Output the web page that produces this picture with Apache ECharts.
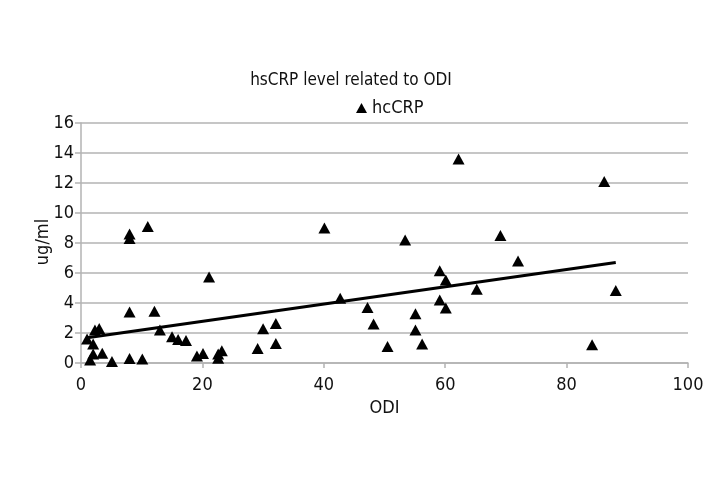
<!DOCTYPE html>
<html>
<head>
<meta charset="utf-8">
<script src="https://cdn.jsdelivr.net/npm/echarts@6/dist/echarts.min.js"></script>
<style>
  html, body { margin: 0; padding: 0; background: #fff; }
  #chart { width: 720px; height: 480px; }
</style>
</head>
<body>
<div id="chart"></div>
<script>
// ODI values and hsCRP (ug/ml)
var odi = [1.0, 1.5, 2.0, 2.0, 2.3, 3.0, 3.5, 5.1, 8.0, 8.0, 8.0, 8.0, 10.1, 11.0, 12.1, 13.0,
  15.0, 16.0, 17.3, 19.1, 20.1, 21.1, 22.6, 22.6, 23.2, 29.1, 30.0, 32.1, 32.1,
  40.1, 42.7, 47.2, 48.2, 50.5, 53.4, 55.1, 55.1, 56.2, 59.1, 59.1, 60.1, 60.1,
  62.2, 65.2, 69.1, 72.0, 84.2, 86.2, 88.1];
var hscrp = [1.6, 0.2, 1.26, 0.6, 2.2, 2.3, 0.65, 0.1, 3.4, 8.6, 8.3, 0.3, 0.27, 9.1, 3.45, 2.2,
  1.75, 1.57, 1.5, 0.46, 0.64, 5.73, 0.31, 0.6, 0.82, 0.97, 2.28, 2.63, 1.3,
  9.0, 4.32, 3.7, 2.6, 1.1, 8.2, 3.28, 2.2, 1.26, 6.15, 4.2, 5.54, 3.66,
  13.6, 4.92, 8.5, 6.8, 1.22, 12.1, 4.83];

var xTicks = [0, 20, 40, 60, 80, 100];
var yTicks = [0, 2, 4, 6, 8, 10, 12, 14, 16];

var points = odi.map(function (x, i) { return [x, hscrp[i]]; });

// linear trendline (least squares), drawn from min to max ODI
var n = odi.length, sx = 0, sy = 0, sxx = 0, sxy = 0;
for (var i = 0; i < n; i++) {
  sx += odi[i]; sy += hscrp[i]; sxx += odi[i] * odi[i]; sxy += odi[i] * hscrp[i];
}
var slope = (n * sxy - sx * sy) / (n * sxx - sx * sx);
var icpt = (sy - slope * sx) / n;
var xMin = Math.min.apply(null, odi), xMax = Math.max.apply(null, odi);
var trend = [[xMin, icpt + slope * xMin], [xMax, icpt + slope * xMax]];

var font = '"DejaVu Sans Condensed", "Liberation Sans Narrow", sans-serif';
var chart = echarts.init(document.getElementById('chart'));
chart.setOption({
  animation: false,
  backgroundColor: '#fff',
  textStyle: { fontFamily: font, color: '#000' },
  title: {
    text: 'hsCRP level related to ODI',
    left: 346, top: 67, textAlign: 'center',
    textStyle: { fontFamily: font, fontSize: 17, fontWeight: 'normal', color: '#111' }
  },
  legend: {
    data: [{ name: 'hcCRP', icon: 'triangle' }],
    left: 351, top: 94,
    itemWidth: 11, itemHeight: 10, itemGap: 5,
    textStyle: { fontFamily: font, fontSize: 18, color: '#111' }
  },
  // y-axis title placed by hand, closer to the tick labels
  graphic: [{
    type: 'text', x: 43, y: 242, rotation: Math.PI / 2,
    style: { text: 'ug/ml', font: '18px ' + font, fill: '#111',
      textAlign: 'center', textVerticalAlign: 'middle' }
  }],
  grid: { left: 81, right: 32, top: 123, bottom: 117 },
  xAxis: {
    type: 'value', min: 0, max: 100, interval: 20,
    name: 'ODI', nameLocation: 'middle', nameGap: 36,
    nameTextStyle: { fontFamily: font, fontSize: 18, color: '#111' },
    axisLine: { lineStyle: { color: '#b3b3b3', width: 1.5 } },
    axisTick: { show: true, length: 5, lineStyle: { color: '#b3b3b3', width: 1.5 } },
    axisLabel: { fontFamily: font, fontSize: 18, color: '#111', margin: 13,
      formatter: function (v) { return xTicks.indexOf(v) >= 0 ? String(v) : ''; } },
    splitLine: { show: false }
  },
  yAxis: {
    type: 'value', min: 0, max: 16, interval: 2,
    axisLine: { show: true, lineStyle: { color: '#b3b3b3', width: 1.5 } },
    axisTick: { show: true, length: 6, lineStyle: { color: '#b3b3b3', width: 1.5 } },
    axisLabel: { fontFamily: font, fontSize: 18, color: '#111', margin: 7,
      formatter: function (v) { return yTicks.indexOf(v) >= 0 ? String(v) : ''; } },
    splitLine: { show: true, lineStyle: { color: '#b3b3b3', width: 1.5 } }
  },
  series: [
    {
      name: 'hcCRP', type: 'scatter', data: points,
      symbol: 'triangle', symbolSize: [12, 11],
      itemStyle: { color: '#000', opacity: 1 }
    },
    {
      name: 'trend', type: 'line', data: trend,
      symbol: 'none', silent: true,
      lineStyle: { color: '#000', width: 3 }
    }
  ]
});
</script>
</body>
</html>
